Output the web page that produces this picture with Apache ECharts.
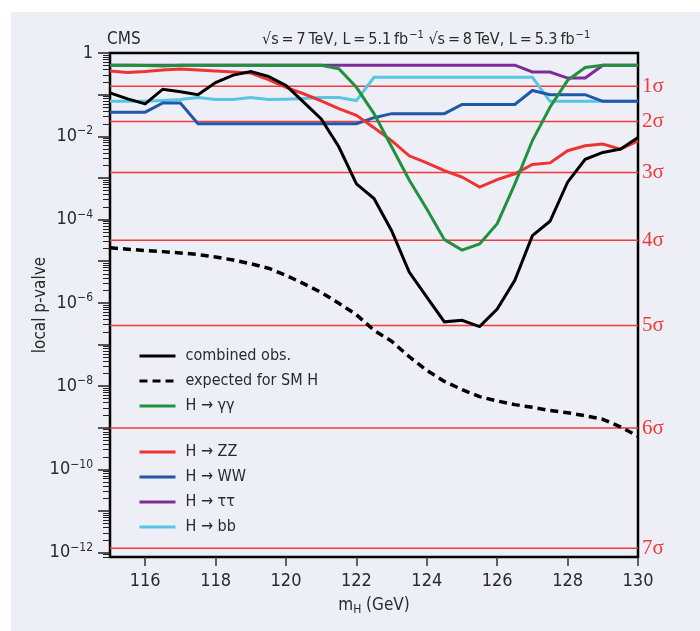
<!DOCTYPE html>
<html>
<head>
<meta charset="utf-8">
<script src="https://cdn.jsdelivr.net/npm/echarts@6/dist/echarts.min.js"></script>
<style>
  html, body { margin: 0; padding: 0; background: #fff; }
  #chart { position: absolute; left: 11px; top: 12px; width: 689px; height: 619px; }
</style>
</head>
<body>
<div id="chart"></div>
<script>
// Higgs mass points (GeV)
const massPoints = [115, 115.5, 116, 116.5, 117, 117.5, 118, 118.5, 119, 119.5, 120, 120.5,
  121, 121.5, 122, 122.5, 123, 123.5, 124, 124.5, 125, 125.5, 126, 126.5, 127, 127.5,
  128, 128.5, 129, 129.5, 130];

// local p-values
const combinedObs = [0.11, 0.079, 0.060, 0.135, 0.117, 0.10, 0.195, 0.295, 0.36, 0.275, 0.166,
  0.066, 0.026, 5.6e-3, 7.2e-4, 3.2e-4, 5.4e-5, 5.5e-6, 1.38e-6, 3.5e-7, 3.8e-7, 2.7e-7,
  7.1e-7, 3.5e-6, 4.1e-5, 9.1e-5, 7.9e-4, 2.8e-3, 4.1e-3, 4.9e-3, 9.3e-3];
const expectedSM = [2.1e-5, 1.95e-5, 1.8e-5, 1.7e-5, 1.58e-5, 1.45e-5, 1.26e-5, 1.07e-5, 8.7e-6,
  6.8e-6, 4.6e-6, 2.9e-6, 1.78e-6, 9.8e-7, 5.2e-7, 2.2e-7, 1.2e-7, 5.1e-8, 2.4e-8, 1.3e-8,
  8.3e-9, 5.6e-9, 4.4e-9, 3.6e-9, 3.1e-9, 2.6e-9, 2.3e-9, 1.95e-9, 1.6e-9, 1.05e-9, 6.3e-10];
const hGammaGamma = [0.51, 0.51, 0.50, 0.49, 0.51, 0.51, 0.51, 0.51, 0.51, 0.51, 0.51, 0.51,
  0.51, 0.42, 0.15, 0.035, 5.6e-3, 8.9e-4, 1.8e-4, 3.3e-5, 1.85e-5, 2.6e-5, 8.0e-5, 7.1e-4,
  7.9e-3, 0.050, 0.22, 0.45, 0.51, 0.51, 0.51];
const hZZ = [0.37, 0.34, 0.36, 0.39, 0.41, 0.39, 0.37, 0.35, 0.33, 0.23, 0.15, 0.105, 0.071,
  0.046, 0.032, 0.016, 7.9e-3, 3.4e-3, 2.3e-3, 1.5e-3, 1.05e-3, 6.0e-4, 9.1e-4, 1.26e-3,
  2.1e-3, 2.3e-3, 4.5e-3, 5.9e-3, 6.5e-3, 4.9e-3, 7.8e-3];
const hWW = [0.038, 0.038, 0.038, 0.063, 0.063, 0.020, 0.020, 0.020, 0.020, 0.020, 0.020, 0.020,
  0.020, 0.020, 0.020, 0.028, 0.035, 0.035, 0.035, 0.035, 0.058, 0.058, 0.058, 0.058, 0.126,
  0.10, 0.10, 0.10, 0.069, 0.069, 0.069];
const hTauTau = [0.51, 0.51, 0.51, 0.51, 0.51, 0.51, 0.51, 0.51, 0.51, 0.51, 0.51, 0.51, 0.51,
  0.51, 0.51, 0.51, 0.51, 0.51, 0.51, 0.51, 0.51, 0.51, 0.51, 0.51, 0.35, 0.35, 0.25, 0.25,
  0.51, 0.51, 0.51];
const hBB = [0.069, 0.069, 0.069, 0.072, 0.076, 0.085, 0.076, 0.076, 0.085, 0.076, 0.078, 0.081,
  0.085, 0.085, 0.072, 0.26, 0.26, 0.26, 0.26, 0.26, 0.26, 0.26, 0.26, 0.26, 0.26, 0.069,
  0.069, 0.069, 0.069, 0.069, 0.069];

// significance reference lines
const sigmaLevels = [1, 2, 3, 4, 5, 6, 7];
const sigmaPValues = [0.1587, 0.02275, 1.35e-3, 3.17e-5, 2.87e-7, 9.87e-10, 1.28e-12];

// axis ticks / labels
const xTicks = [116, 118, 120, 122, 124, 126, 128, 130];
const yDecades = [1, 1e-1, 1e-2, 1e-3, 1e-4, 1e-5, 1e-6, 1e-7, 1e-8, 1e-9, 1e-10, 1e-11, 1e-12];
const yLabelDecades = [1, 1e-2, 1e-4, 1e-6, 1e-8, 1e-10, 1e-12];
const xMin = 115, xMax = 130;
const yMin = 7.9e-13, yMax = 1;

const yMinor = [];
[1e-1, 1e-2, 1e-3, 1e-4, 1e-5, 1e-6, 1e-7, 1e-8, 1e-9, 1e-10, 1e-11, 1e-12, 1e-13].forEach(d => {
  for (let k = 2; k <= 9; k++) {
    const v = k * d;
    if (v >= yMin && v <= yMax) yMinor.push(v);
  }
});

const FONT = '"Liberation Sans Narrow", "DejaVu Sans Condensed", "Roboto", sans-serif';
const SERIF = '"Liberation Serif", "DejaVu Serif", serif';
const TXT = '#2a2a2a';
const SIG_RED = '#ef3a3a';

const pairs = arr => massPoints.map((m, i) => [m, arr[i]]);

const chart = echarts.init(document.getElementById('chart'));

const gridBox = { left: 99, top: 41, right: 62, bottom: 74 };

const lineSeries = (name, arr, color, extra) => Object.assign({
  name: name,
  type: 'line',
  data: pairs(arr),
  symbol: 'none',
  z: 3,
  lineStyle: { color: color, width: 3, join: 'miter' },
  itemStyle: { color: color },
  animation: false
}, extra || {});

// one thin red line per significance level, labelled at its right end
const sigmaSeries = sigmaPValues.map((p, i) => ({
  name: sigmaLevels[i] + 'σ',
  type: 'line',
  data: [[xMin, p], [xMax, p]],
  symbol: 'none',
  z: 1,
  silent: true,
  animation: false,
  lineStyle: { color: SIG_RED, width: 1.5 },
  endLabel: {
    show: true, formatter: sigmaLevels[i] + 'σ', distance: 4,
    color: SIG_RED, fontFamily: SERIF, fontSize: 21
  }
}));

const legendBase = {
  orient: 'vertical', left: 127, padding: 0,
  itemWidth: 36, itemHeight: 14, itemGap: 9,
  itemStyle: { opacity: 0 },
  lineStyle: { width: 3 },
  textStyle: { fontFamily: FONT, fontSize: 16, color: TXT, padding: [0, 0, 0, 5] }
};

const options = {
  backgroundColor: '#eeeef6',
  title: [
    {
      text: 'CMS', left: 96, top: 19, padding: 0,
      textStyle: { fontFamily: FONT, fontSize: 17, fontWeight: 'normal', color: TXT }
    },
    {
      text: '√s\u2009=\u20097\u2009TeV, L\u2009=\u20095.1\u2009fb{s|−1} √s\u2009=\u20098\u2009TeV, L\u2009=\u20095.3\u2009fb{s|−1}',
      left: 251, top: 18, padding: 0,
      textStyle: {
        fontFamily: FONT, fontSize: 16, fontWeight: 'normal', color: TXT,
        rich: { s: { fontFamily: FONT, fontSize: 11, color: TXT, padding: [0, 0, 9, 1] } }
      }
    }
  ],
  grid: [
    Object.assign({ show: true, borderColor: '#000', borderWidth: 2.5, backgroundColor: 'transparent' }, gridBox),
    Object.assign({ show: false }, gridBox)
  ],
  legend: [
    Object.assign({ data: ['combined obs.', 'expected for SM H', 'H → γγ'], top: 336 }, legendBase),
    Object.assign({ data: ['H → ZZ', 'H → WW', 'H → ττ', 'H → bb'], top: 432 }, legendBase)
  ],
  xAxis: [
    {
      type: 'value', gridIndex: 0, min: xMin, max: xMax,
      name: '{n|m}{sub|H}{n| (GeV)}',
      nameLocation: 'middle', nameGap: 39, nameMoveOverlap: false,
      nameTextStyle: {
        rich: {
          n: { fontFamily: FONT, fontSize: 17, color: TXT },
          sub: { fontFamily: FONT, fontSize: 12, color: TXT, padding: [8, 0, 0, 0] }
        }
      },
      axisLine: { show: false },
      axisTick: { show: true, customValues: xTicks, length: 9, lineStyle: { color: '#333', width: 1.5 } },
      axisLabel: { customValues: xTicks, margin: 15, fontFamily: FONT, fontSize: 18, color: TXT },
      splitLine: { show: false }
    },
    {
      type: 'value', gridIndex: 1, min: xMin, max: xMax, show: false
    }
  ],
  yAxis: [
    {
      type: 'log', logBase: 10, gridIndex: 0, min: yMin, max: yMax,
      name: 'local p-valve', nameLocation: 'middle', nameGap: 61, nameMoveOverlap: false,
      nameTextStyle: { fontFamily: FONT, fontSize: 17, color: TXT },
      axisLine: { show: false },
      axisTick: { show: true, customValues: yDecades, length: 12, lineStyle: { color: '#222', width: 1.5 } },
      axisLabel: {
        customValues: yLabelDecades, margin: 17,
        formatter: v => {
          const e = Math.round(Math.log10(v));
          return e === 0 ? '{b|1}' : '{b|10}{s|−' + (-e) + '}';
        },
        rich: {
          b: { fontFamily: FONT, fontSize: 18, color: TXT },
          s: { fontFamily: FONT, fontSize: 12, color: TXT, padding: [0, 0, 10, 0] }
        }
      },
      splitLine: { show: false }
    },
    {
      type: 'log', logBase: 10, gridIndex: 1, min: yMin, max: yMax,
      axisLine: { show: false },
      axisTick: { show: true, customValues: yMinor, length: 7, lineStyle: { color: '#222', width: 1 } },
      axisLabel: { show: false },
      splitLine: { show: false }
    }
  ],
  series: sigmaSeries.concat([
    lineSeries('H → ττ', hTauTau, '#7d2c98'),
    lineSeries('H → bb', hBB, '#56c6e2'),
    lineSeries('H → WW', hWW, '#2058a8'),
    lineSeries('H → ZZ', hZZ, '#ee3333'),
    lineSeries('H → γγ', hGammaGamma, '#22913f'),
    lineSeries('expected for SM H', expectedSM, '#000', {
      lineStyle: { color: '#000', width: 3.5, type: [8, 5] }
    }),
    lineSeries('combined obs.', combinedObs, '#000')
  ])
};

chart.setOption(options);
</script>
</body>
</html>
